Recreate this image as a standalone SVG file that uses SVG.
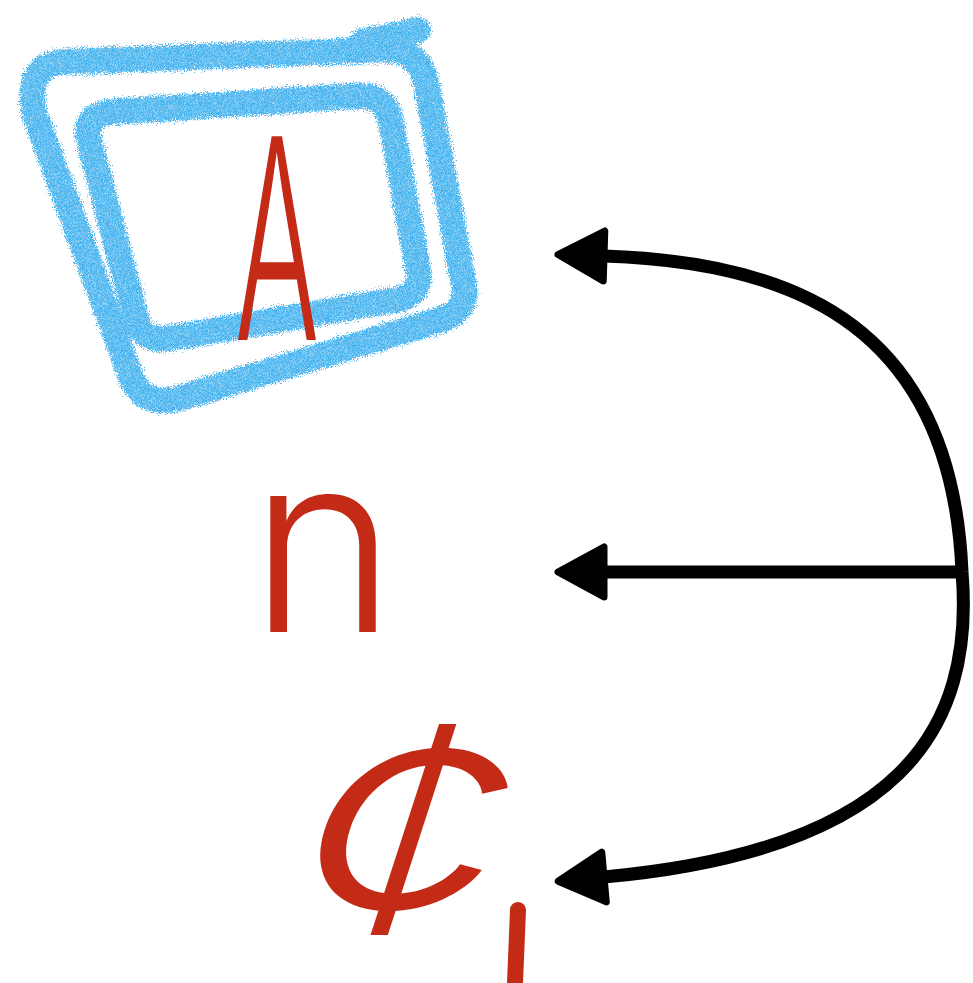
<svg xmlns="http://www.w3.org/2000/svg" width="973" height="983" viewBox="0 0 973 983">
<style>
.crayon{fill:none;stroke:#45b3ef;stroke-width:26;stroke-linejoin:round;stroke-linecap:round}
.hand{fill:#c42b17;font-family:Inter,"DejaVu Sans","Liberation Sans",sans-serif;font-weight:300}
.conn{fill:none;stroke:#000;stroke-width:13;stroke-linecap:butt}
</style>
<defs>
<filter id="rough" filterUnits="userSpaceOnUse" x="0" y="0" width="520" height="440">
<feTurbulence type="fractalNoise" baseFrequency="0.9" numOctaves="2" seed="3" result="n"/>
<feDisplacementMap in="SourceGraphic" in2="n" scale="12" xChannelSelector="R" yChannelSelector="G" result="d"/>
<feTurbulence type="fractalNoise" baseFrequency="1.6" numOctaves="1" seed="7" result="n2"/>
<feColorMatrix in="n2" type="matrix" values="0 0 0 0 0  0 0 0 0 0  0 0 0 0 0  0 0 0 -1.4 1.55" result="a"/>
<feComposite in="d" in2="a" operator="in" result="t"/>
<feGaussianBlur in="t" stdDeviation="0.6"/>
</filter>
<marker id="head" markerUnits="userSpaceOnUse" viewBox="-4 -4 56 64" markerWidth="56" markerHeight="64" refX="0" refY="28" orient="auto-start-reverse">
<path d="M0,3 L46,28 L0,53 Z" fill="#000" stroke="#000" stroke-width="7" stroke-linejoin="round"/>
</marker>
</defs>
<rect width="973" height="983" fill="#fff"/>
<g id="node-A">
<g filter="url(#rough)">
<path class="crayon" d="M60,62 L380,50 Q418,47 426,82 L464,285 Q469,310 440,320 L180,398 Q142,408 130,374 L34,112 Q26,68 60,62 Z"/>
<path class="crayon" d="M110,112 L355,96 Q386,93 391,122 L418,270 Q422,295 395,300 L170,338 Q142,343 136,318 L89,140 Q83,116 110,112 Z"/>
<path class="crayon" d="M362,42 L418,30"/>
</g>
<text class="hand" font-size="280" text-anchor="middle" transform="translate(277,340) scale(0.45,1)">A</text>
</g>
<g id="node-n">
<text class="hand" font-size="250" text-anchor="middle" transform="translate(323,632)">n</text>
</g>
<g id="node-c">
<text class="hand" font-size="290" font-weight="200" text-anchor="middle" transform="translate(375,935) skewX(-18) scale(1.3,1)">¢</text>
<path d="M518,910 L515,983" fill="none" stroke="#c42b17" stroke-width="16" stroke-linecap="round"/>
</g>
<g id="connectors">
<path class="conn" marker-start="url(#head)" d="M604,256 C800,262 952,330 962,572"/>
<path class="conn" marker-start="url(#head)" d="M604,572 L962,572"/>
<path class="conn" marker-start="url(#head)" d="M604,877 C900,850 975,730 962,572"/>
</g>
</svg>
